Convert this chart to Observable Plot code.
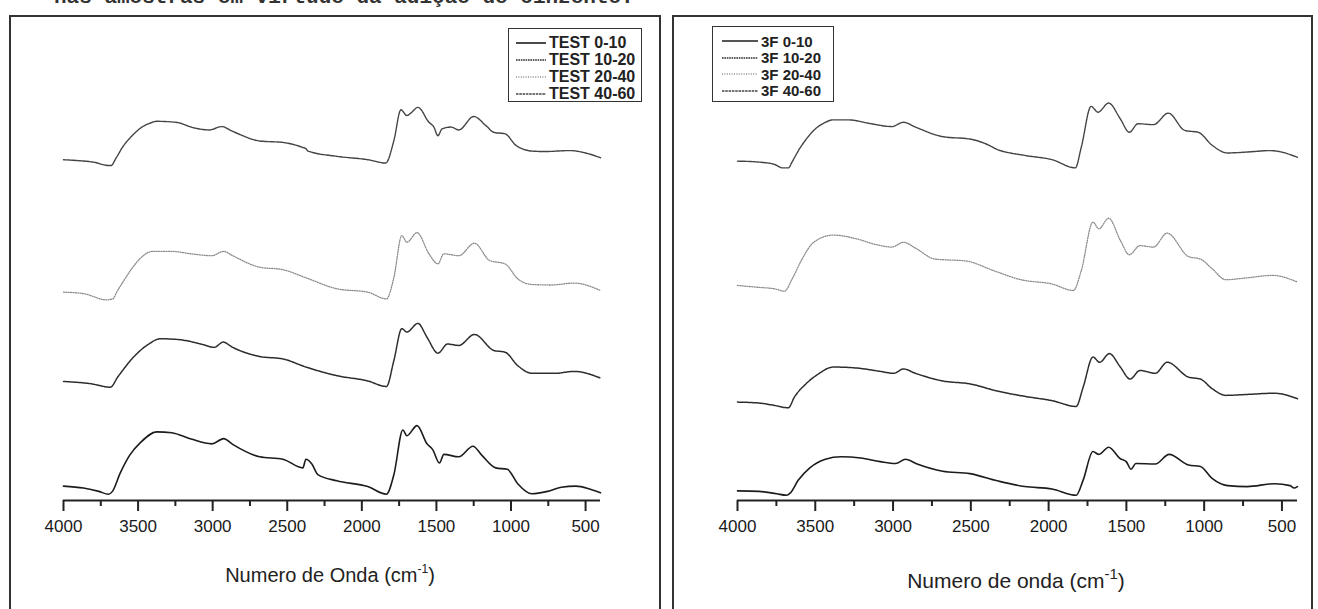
<!DOCTYPE html>
<html><head><meta charset="utf-8">
<script src="https://cdn.jsdelivr.net/npm/d3@7"></script>
<script src="https://cdn.jsdelivr.net/npm/@observablehq/plot@0.6"></script>
<style>
html,body{margin:0;padding:0;background:#fff;}
body{width:1318px;height:609px;overflow:hidden;position:relative;font-family:"Liberation Sans",Arial,sans-serif;color:#222;}
.frame{position:absolute;top:15px;height:700px;border:2px solid #333;box-sizing:border-box;}
.plot{position:absolute;top:15px;}
.legend{position:absolute;border:1.5px solid #333;box-sizing:border-box;background:#fff;font-weight:bold;}
.legend .row{display:flex;align-items:center;white-space:nowrap;}
.legend svg{display:block;}
.xtitle{position:absolute;white-space:nowrap;text-align:center;line-height:1;}
.cut{position:absolute;left:54px;top:-13px;font-family:"Liberation Mono","DejaVu Sans Mono",monospace;font-weight:bold;font-size:21px;line-height:1;white-space:nowrap;color:#333;}
</style>
</head><body>
<div class="cut">nas amostras em virtude da adição de cinzento.</div>
<div class="frame" style="left:9px;width:652px;"></div>
<div class="frame" style="left:672px;width:641px;"></div>
<div id="left" class="plot" style="left:9px;"></div>
<div id="right" class="plot" style="left:673px;"></div>
<div id="legL" class="legend" style="left:508px;top:28px;width:134px;height:74px;padding:5px 0 0 7px;font-size:16px;"></div>
<div id="legR" class="legend" style="left:712px;top:26px;width:122px;height:76px;padding:6px 0 0 9px;font-size:15px;"></div>
<div class="xtitle" style="left:200px;width:260px;top:565px;font-size:20px;">Numero de Onda (cm<span style="font-size:12px;position:relative;top:-9px;">-1</span>)</div>
<div class="xtitle" style="left:886px;width:260px;top:570px;font-size:21px;">Numero de onda (cm<span style="font-size:15px;position:relative;top:-9px;">-1</span>)</div>
<script>
// ---- axis ticks ----
const ticksMajor = [4000, 3500, 3000, 2500, 2000, 1500, 1000, 500];
const ticksMinor = [3750, 3250, 2750, 2250, 1750, 1250, 750];

// ---- legend labels ----
const leftLabels = ["TEST 0-10", "TEST 10-20", "TEST 20-40", "TEST 40-60"];
const rightLabels = ["3F 0-10", "3F 10-20", "3F 20-40", "3F 40-60"];

// ---- left panel spectra (wavenumber, arbitrary absorbance units incl. offset) ----
const test010Wn = [4000,3866,3763,3698,3672,3620,3557,3483,3375,3274,3145,3006,2926,2866,2685,2530,2395,2375,2335,2295,2167,1960,1835,1785,1725,1698,1630,1563,1525,1480,1450,1350,1255,1195,1103,1025,955,860,755,663,565,473,400];
const test010 = [3.0,2.6,1.9,1.3,1.9,5.7,9.4,12.1,14.3,14.1,12.8,11.8,12.9,11.7,9.1,8.6,6.8,8.6,7.6,5.4,4.1,2.9,1.3,5.4,14.7,13.5,15.6,11.8,10.6,7.8,9.6,9.1,11.3,9.4,6.8,6.5,3.5,1.4,1.9,2.75,3.0,2.4,1.6];

const test1020Wn = [4000,3812,3686,3637,3530,3428,3350,3220,3067,2990,2930,2866,2685,2530,2375,2167,1960,1835,1785,1732,1698,1624,1563,1490,1425,1350,1245,1115,1040,955,860,705,577,400];
const test1020 = [24.8,24.3,23.6,25.7,29.9,32.6,33.7,33.5,32.5,31.9,33.0,31.9,30.0,29.5,27.8,26.0,24.9,23.75,29.2,35.8,35.1,36.9,34.0,30.7,32.6,32.3,34.6,31.25,30.9,28.1,26.5,26.5,26.9,25.5];

const test2040Wn = [4000,3866,3711,3670,3640,3600,3540,3480,3402,3274,3145,3006,2926,2866,2685,2530,2375,2167,1960,1835,1785,1732,1698,1630,1550,1490,1450,1350,1245,1143,1040,955,860,730,577,400];
const test2040 = [43.4,43.1,41.8,42.0,43.6,45.6,48.4,50.6,51.9,51.9,51.4,51.0,51.9,51.0,48.6,48.1,46.4,44.1,43.4,42.0,46.5,55.2,53.8,55.8,51.4,49.3,51.4,51.0,53.6,50.0,49.3,46.2,45.0,44.9,45.3,43.75];

const test4060Wn = [4000,3900,3800,3700,3680,3650,3600,3540,3483,3420,3375,3248,3121,3020,2940,2866,2685,2530,2400,2375,2360,2167,1960,1840,1785,1738,1698,1672,1624,1550,1517,1490,1463,1402,1350,1250,1168,1115,1040,967,860,778,604,500,400];
const test4060 = [71.0,70.8,70.5,69.8,69.8,71.2,73.8,76.0,77.6,78.6,79.0,78.8,77.6,77.2,77.9,76.9,74.9,74.6,73.6,73.3,72.8,71.7,71.0,70.3,75.0,81.4,80.2,80.7,81.9,78.8,77.8,76.0,77.4,77.8,77.2,80.0,78.1,76.7,76.4,74.0,72.8,72.7,72.9,72.4,71.4];

// ---- right panel spectra ----
const f010Wn = [4000,3861,3749,3686,3660,3610,3535,3435,3334,3208,3083,2983,2920,2845,2681,2506,2330,2154,1978,1823,1778,1715,1677,1614,1539,1501,1470,1439,1314,1225,1100,1024,949,849,723,548,447,422,400];
const f010 = [2.0,1.9,1.4,1.1,1.6,4.2,6.8,8.6,9.1,8.85,8.1,7.7,8.6,7.6,6.1,5.6,4.1,2.9,2.4,1.1,4.25,10.2,9.6,11.1,8.7,8.1,6.5,7.7,7.6,9.6,7.4,7.1,4.6,3.1,2.9,3.5,3.1,2.6,2.9];

const f1020Wn = [4000,3861,3761,3673,3635,3560,3485,3384,3233,3083,2995,2933,2857,2681,2506,2330,2154,1978,1823,1778,1715,1672,1609,1539,1476,1413,1314,1238,1100,1024,949,861,723,548,400];
const f1020 = [20.5,20.3,19.8,19.3,21.5,24.3,26.25,27.8,27.6,26.9,26.5,27.4,26.5,24.9,24.3,22.8,21.7,20.8,19.6,23.6,29.9,28.8,30.6,27.8,25.3,27.1,26.5,28.8,25.7,25.3,23.3,21.9,22.1,22.35,21.2];

const f2040Wn = [4000,3861,3761,3698,3648,3585,3510,3384,3233,3108,3008,2933,2857,2731,2531,2355,2179,1978,1841,1790,1715,1677,1614,1539,1481,1413,1326,1238,1100,1024,949,861,723,560,400];
const f2040 = [44.8,44.4,44.1,43.6,46.2,50.3,53.8,55.3,54.5,53.3,52.8,53.8,52.6,50.3,49.9,47.9,46.0,45.1,43.75,47.9,58.0,56.6,58.8,54.2,51.2,53.1,52.8,55.7,50.8,50.3,48.3,46.0,46.4,46.9,45.5];

const f4060Wn = [4000,3861,3761,3711,3673,3648,3610,3560,3510,3440,3384,3284,3158,3008,2933,2857,2681,2506,2368,2343,2154,1978,1828,1790,1727,1682,1614,1539,1481,1426,1326,1230,1125,1037,949,849,723,573,400];
const f4060 = [70.7,70.5,70.0,69.3,69.3,70.6,72.8,75.2,77.1,78.7,79.3,79.3,78.6,77.9,78.8,77.8,75.8,75.3,73.75,73.3,71.9,71.0,69.3,73.6,82.1,80.9,82.8,79.5,76.7,78.5,78.3,80.7,77.1,76.7,74.0,72.4,72.6,72.9,71.5];

// ---- line styles for the four depths ----
const lineStyles = [
  {stroke: "#1c1c1c", strokeWidth: 1.6, dash: null},
  {stroke: "#2c2c2c", strokeWidth: 1.5, dash: "1.6,0.8"},
  {stroke: "#8c8c8c", strokeWidth: 1.3, dash: "1,1.4"},
  {stroke: "#444444", strokeWidth: 1.4, dash: "2.5,0.8"}
];

function panel(series, geo) {
  const marks = [
    Plot.ruleY([0], {stroke: "#222", strokeWidth: 2}),
    Plot.axisX(ticksMajor, {tickSize: 11, tickPadding: 8, tickFormat: d => String(d), stroke: "#222", strokeWidth: 2, fill: "#1a1a1a", label: null}),
    Plot.axisX(ticksMinor, {tickSize: 6, tickFormat: () => "", stroke: "#222", strokeWidth: 2, label: null})
  ];
  series.forEach((s, i) => {
    const pts = s.wn.map((w, j) => ({wn: w, a: s.v[j]}));
    const st = lineStyles[i];
    marks.push(Plot.line(pts, {x: "wn", y: "a", curve: "monotone-x", stroke: st.stroke, strokeWidth: st.strokeWidth, strokeDasharray: st.dash}));
  });
  return Plot.plot({
    width: geo.width, height: 594,
    marginLeft: geo.ml, marginRight: geo.mr, marginTop: 5, marginBottom: 109,
    x: {domain: [4000, 400], label: null},
    y: {domain: [0, 100], axis: null},
    style: {fontFamily: "'Liberation Sans', Arial, sans-serif", fontSize: "17px", background: "transparent", overflow: "visible"},
    marks
  });
}

document.getElementById("left").append(panel([
  {wn: test010Wn, v: test010}, {wn: test1020Wn, v: test1020},
  {wn: test2040Wn, v: test2040}, {wn: test4060Wn, v: test4060}
], {width: 652, ml: 54, mr: 61}));

document.getElementById("right").append(panel([
  {wn: f010Wn, v: f010}, {wn: f1020Wn, v: f1020},
  {wn: f2040Wn, v: f2040}, {wn: f4060Wn, v: f4060}
], {width: 640, ml: 64, mr: 16}));

function legend(el, labels, lineLen, rowH) {
  labels.forEach((lab, i) => {
    const st = lineStyles[i];
    const row = document.createElement("div");
    row.className = "row";
    row.style.height = rowH + "px";
    row.innerHTML = `<svg width="${lineLen + 3}" height="6"><line x1="0" x2="${lineLen}" y1="3" y2="3" stroke="${st.stroke}" stroke-width="${st.strokeWidth}" ${st.dash ? `stroke-dasharray="${st.dash}"` : ""}/></svg><span>${lab}</span>`;
    el.append(row);
  });
}
legend(document.getElementById("legL"), leftLabels, 30, 17);
legend(document.getElementById("legR"), rightLabels, 36, 16.5);
</script>
</body></html>
